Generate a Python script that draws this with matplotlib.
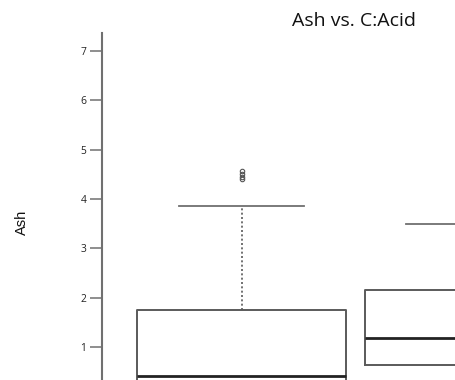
import matplotlib
matplotlib.use("Agg")
import matplotlib.pyplot as plt

# ---- data ----
groups = ["1", "2"]
q1 = [0.20, 0.635]
med = [0.42, 1.19]
q3 = [1.75, 2.16]
whislo = [0.0, 0.10]
whishi = [3.85, 3.49]
fliers = [[4.56, 4.50, 4.45, 4.40], []]
yticks = [1, 2, 3, 4, 5, 6, 7]
title = "Ash vs. C:Acid"
ylabel = "Ash"

W, H = 456, 380
fig = plt.figure(figsize=(W / 100, H / 100), dpi=100)

# axes extends beyond the figure (reference is a crop)
left_px, right_px = 102.3, 608.3
top_px, bot_px = 33.0, 411.4
ax = fig.add_axes([left_px / W, 1 - bot_px / H,
                   (right_px - left_px) / W, (bot_px - top_px) / H])

stats = []
for i in range(len(groups)):
    stats.append(dict(label=groups[i], q1=q1[i], med=med[i], q3=q3[i],
                      whislo=whislo[i], whishi=whishi[i], fliers=fliers[i]))

edge = "#5a5a5a"
ax.bxp(stats, positions=[1, 2], widths=0.918, capwidths=0.55,
       patch_artist=False, showfliers=True,
       boxprops=dict(color=edge, linewidth=1.4),
       medianprops=dict(color="#222222", linewidth=2.0),
       whiskerprops=dict(color=edge, linewidth=1.2, linestyle=(0, (1.2, 1.4))),
       capprops=dict(color="#707070", linewidth=1.3),
       flierprops=dict(marker="o", markersize=3.2, markerfacecolor="none",
                       markeredgecolor="#555555", markeredgewidth=0.8,
                       linestyle="none"))

ax.set_xlim(0.388, 2.612)
ax.set_ylim(-0.3, 7.36)

for s in ["top", "right", "bottom"]:
    ax.spines[s].set_visible(False)
ax.spines["left"].set_color("#707070")
ax.spines["left"].set_linewidth(1.5)
ax.set_xticks([])
ax.set_yticks(yticks)
ax.set_yticklabels([str(t) for t in yticks], fontsize=7.4, color="#222222",
                   family=["Open Sans", "DejaVu Sans"])
ax.tick_params(axis="y", length=8.4, width=1.1, color="#707070", pad=3.0)

fig.text(354.5 / W, 1 - 26 / H, title, ha="center", va="baseline",
         fontsize=14, family=["Open Sans", "DejaVu Sans"], color="#111111")

fig.text(22 / W, 1 - 222 / H, ylabel, ha="center", va="center", rotation=90,
         fontsize=10.5, family=["Liberation Sans", "DejaVu Sans"], color="#111111")

fig.savefig("out.png", dpi=100)
